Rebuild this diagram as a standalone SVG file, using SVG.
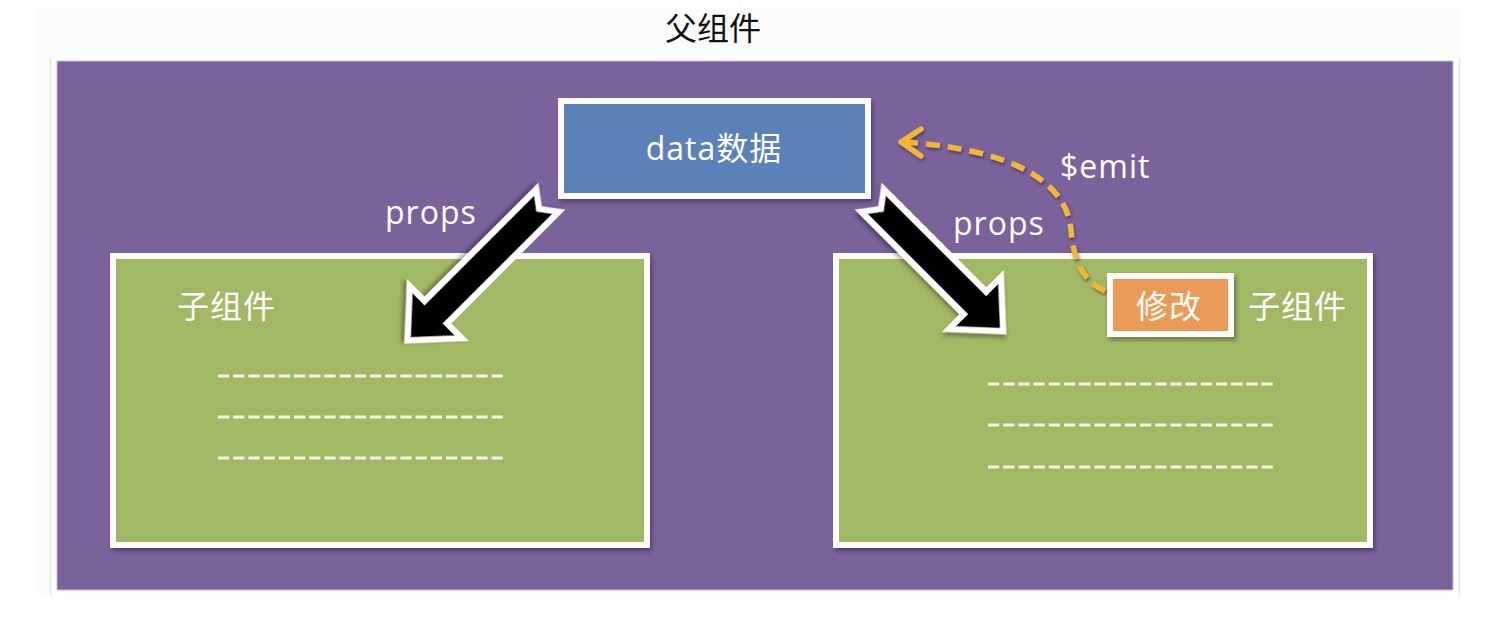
<svg xmlns="http://www.w3.org/2000/svg" width="1498" height="625" viewBox="0 0 1498 625">
  <defs>
    <filter id="sh" x="-10%" y="-10%" width="120%" height="130%">
      <feDropShadow dx="2" dy="3" stdDeviation="2" flood-color="#000" flood-opacity="0.35"/>
    </filter>
    <filter id="sh2" x="-20%" y="-20%" width="140%" height="140%">
      <feDropShadow dx="1" dy="2" stdDeviation="1.5" flood-color="#2a1a40" flood-opacity="0.6"/>
    </filter>
  </defs>
  <style>
    .t { font-family: "Open Sans", "Noto Sans CJK SC", sans-serif; font-size: 32px; fill: #ffffff; letter-spacing: 1px; }
    .title { font-family: "Open Sans", "Noto Sans CJK SC", sans-serif; font-size: 32px; fill: #111111; }
    .box { stroke: #ffffff; stroke-width: 6; }
    .child { fill: #a3b865; }
    .dash { stroke: #f4f4e6; stroke-width: 3; stroke-dasharray: 11.2 4; fill: none; }
    .big { fill: #000000; stroke: #ffffff; stroke-width: 6; stroke-linejoin: miter; }
    .emit { fill: none; stroke: #f2b632; stroke-width: 5.5; }
  </style>

  <rect x="37" y="9" width="1423" height="586" fill="#fcfcfc"/>
  <rect x="50" y="58" width="1410" height="537" fill="#ffffff"/>
  <line x1="50.5" y1="58" x2="50.5" y2="595" stroke="#e4e4e4" stroke-width="1.5"/>
  <line x1="1459.5" y1="58" x2="1459.5" y2="595" stroke="#e4e4e4" stroke-width="1.5"/>

  <g id="parent">
    <rect x="57" y="61" width="1396" height="529" fill="#7b629b" stroke="#c9bcd8" stroke-width="1"/>
    <text class="title" x="713" y="40" text-anchor="middle">父组件</text>
  </g>

  <g id="child-left">
    <rect class="box child" x="113" y="256" width="534" height="289" filter="url(#sh)"/>
    <text class="t" x="177" y="318">子组件</text>
    <line class="dash" x1="218" y1="376" x2="503" y2="376"/>
    <line class="dash" x1="218" y1="417" x2="503" y2="417"/>
    <line class="dash" x1="218" y1="458" x2="503" y2="458"/>
  </g>

  <g id="child-right">
    <rect class="box child" x="836" y="256" width="534" height="289" filter="url(#sh)"/>
    <text class="t" x="1248" y="318">子组件</text>
    <line class="dash" x1="988" y1="384" x2="1273" y2="384"/>
    <line class="dash" x1="988" y1="425" x2="1273" y2="425"/>
    <line class="dash" x1="988" y1="467" x2="1273" y2="467"/>
  </g>

  <g id="data">
    <rect class="box" x="561" y="101" width="307" height="95" fill="#5b80b8" filter="url(#sh)"/>
    <text class="t" x="714" y="160" text-anchor="middle">data数据</text>
  </g>

  <g id="modify">
    <rect class="box" x="1110" y="276" width="121" height="58" fill="#eb9b55" filter="url(#sh)"/>
    <text class="t" x="1169" y="318" text-anchor="middle">修改</text>
  </g>

  <g id="connectors">
    <g transform="translate(549,199) rotate(135)" filter="url(#sh)">
      <polygon class="big" points="2,-16 160,-16 160,-37 200,0 160,37 160,16 2,16 14,0"/>
    </g>
    <g transform="translate(871,199) rotate(45)" filter="url(#sh)">
      <polygon class="big" points="2,-16 147,-16 147,-37 187,0 147,37 147,16 2,16 14,0"/>
    </g>
    <g filter="url(#sh2)">
      <path class="emit" stroke-dasharray="14 8" d="M1105,291 C1080,280 1073,255 1071,230 C1067,185 1020,150 904,142"/>
      <polyline class="emit" stroke-linecap="round" stroke-linejoin="round" points="921,129 901,142 921,156"/>
    </g>
    <text class="t" x="385" y="224">props</text>
    <text class="t" x="953" y="235">props</text>
    <text class="t" x="1060" y="178">$emit</text>
  </g>
</svg>
